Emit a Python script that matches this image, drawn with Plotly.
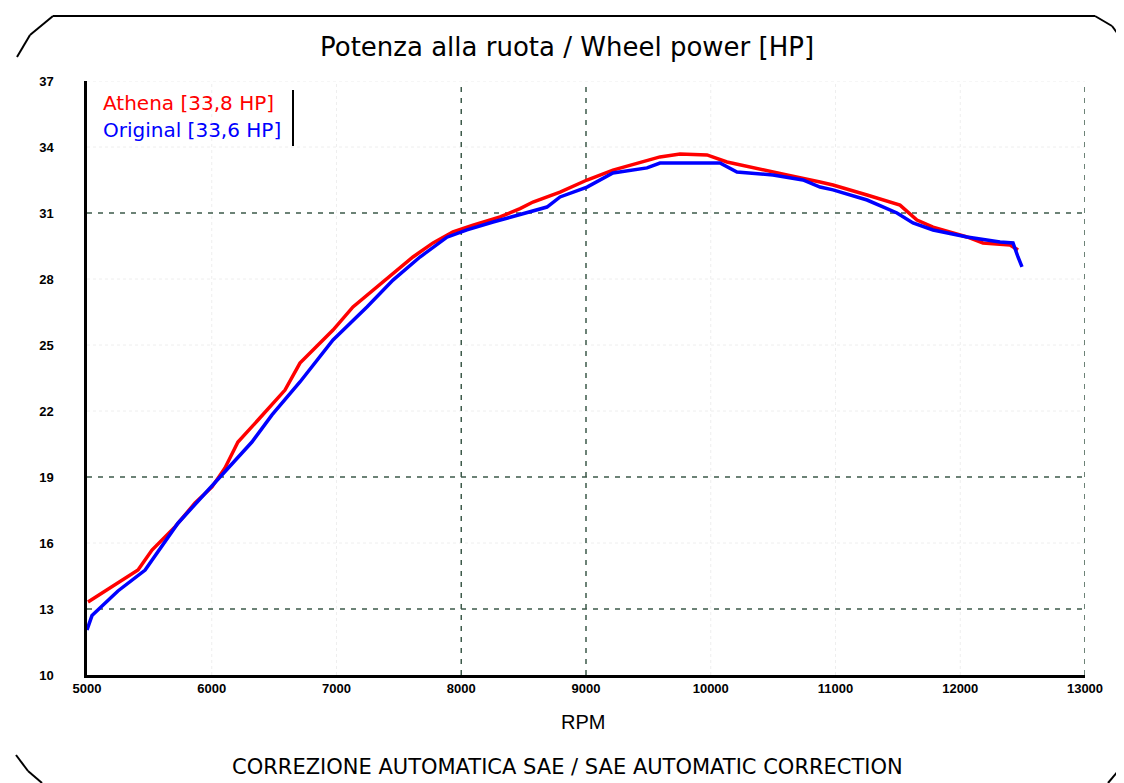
import plotly.graph_objects as go

# ---- data ----
athena_rpm = [5008, 5248, 5409, 5521, 5705, 5866, 6002, 6106, 6210, 6371, 6587, 6707, 6972, 7132,
              7293, 7453, 7613, 7774, 7934, 8094, 8311, 8471, 8575, 8792, 9008, 9216, 9409, 9593,
              9754, 9970, 10130, 10339, 10611, 10876, 10980, 11253, 11517, 11653, 11782, 12054,
              12182, 12399, 12463]
athena_hp = [13.32, 14.18, 14.77, 15.68, 16.73, 17.82, 18.55, 19.41, 20.59, 21.59, 22.95, 24.18,
             25.68, 26.73, 27.5, 28.27, 29.0, 29.64, 30.14, 30.45, 30.82, 31.2, 31.5, 31.95, 32.5,
             32.95, 33.27, 33.55, 33.68, 33.64, 33.32, 33.05, 32.73, 32.41, 32.27, 31.82, 31.36,
             30.68, 30.36, 29.91, 29.64, 29.55, 29.32]
original_rpm = [5000, 5040, 5248, 5466, 5729, 6050, 6322, 6483, 6707, 6972, 7244, 7453, 7669, 7886,
                8046, 8255, 8447, 8687, 8792, 9008, 9216, 9489, 9593, 9810, 10074, 10210, 10499,
                10739, 10876, 10980, 11253, 11493, 11621, 11782, 12054, 12319, 12423, 12463, 12495]
original_hp = [12.05, 12.7, 13.82, 14.77, 16.9, 18.9, 20.59, 21.82, 23.32, 25.23, 26.73, 27.95,
               29.0, 29.9, 30.23, 30.59, 30.91, 31.27, 31.73, 32.18, 32.82, 33.05, 33.27, 33.27,
               33.27, 32.86, 32.73, 32.5, 32.18, 32.05, 31.59, 31.0, 30.55, 30.23, 29.91, 29.68,
               29.64, 29.0, 28.55]
x_ticks = [5000, 6000, 7000, 8000, 9000, 10000, 11000, 12000, 13000]
y_ticks = [10, 13, 16, 19, 22, 25, 28, 31, 34, 37]
major_x = [8000, 9000, 13000]
major_y = [13, 19, 31]
title_text = "Potenza alla ruota / Wheel power [HP]"
footer_text = "CORREZIONE AUTOMATICA SAE / SAE AUTOMATIC CORRECTION"
legend_athena = "Athena [33,8 HP]"
legend_original = "Original [33,6 HP]"

W, H = 1124, 783
OFF = 8  # page body margin
L, R, T, B = 87, 1085, 81, 675  # plot area in window pixels


def px(xp):
    return (xp - L) / (R - L)


def py(yp):
    return (B - yp) / (B - T)


fig = go.Figure()
fig.add_trace(go.Scatter(x=athena_rpm, y=athena_hp, mode="lines", line=dict(color="#ff0000", width=3.5),
                         showlegend=False))
fig.add_trace(go.Scatter(x=original_rpm, y=original_hp, mode="lines", line=dict(color="#0000ff", width=3.5),
                         showlegend=False))

shapes = []
for xv in x_ticks:
    if xv not in major_x and xv != 5000:
        shapes.append(dict(type="line", xref="x", yref="paper", x0=xv, x1=xv, y0=0, y1=1,
                           line=dict(color="#eeeeee", width=1, dash="dot"), layer="below"))
for yv in y_ticks:
    if yv not in major_y and yv != 10:
        shapes.append(dict(type="line", xref="paper", yref="y", x0=0, x1=1, y0=yv, y1=yv,
                           line=dict(color="#eeeeee", width=1, dash="dot"), layer="below"))
for xv in major_x:
    shapes.append(dict(type="line", xref="x", yref="paper", x0=xv, x1=xv, y0=0, y1=1,
                       line=dict(color="#3d5a4a", width=1.5, dash="5px,6px"), layer="below"))
for yv in major_y:
    shapes.append(dict(type="line", xref="paper", yref="y", x0=0, x1=1, y0=yv, y1=yv,
                       line=dict(color="#3d5a4a", width=1.5, dash="5px,6px"), layer="below"))
shapes.append(dict(type="line", xref="paper", yref="paper", x0=px(293), x1=px(293), y0=py(90), y1=py(146),
                   line=dict(color="black", width=2)))
frame = [((53, 16), (1095, 16)), ((1095, 16), (1112, 26)), ((1112, 26), (1124, 42)),
         ((53, 16), (30, 35)), ((30, 35), (17, 57)),
         ((16, 755), (28, 771)), ((28, 771), (42, 783)),
         ((1124, 764), (1108, 783))]
for (a, b) in frame:
    shapes.append(dict(type="line", xref="paper", yref="paper", x0=px(a[0]), y0=py(a[1]), x1=px(b[0]), y1=py(b[1]),
                       line=dict(color="black", width=2)))

FONT = "DejaVu Sans, sans-serif"
annotations = [
    dict(text=title_text, xref="paper", yref="paper", x=px(567), y=py(47), showarrow=False,
         font=dict(size=26, color="black", family=FONT), xanchor="center", yanchor="middle"),
    dict(text="RPM", xref="paper", yref="paper", x=px(583), y=py(722), showarrow=False,
         font=dict(size=20, color="black", family="Arial, Liberation Sans, sans-serif"), xanchor="center", yanchor="middle"),
    dict(text=footer_text, xref="paper", yref="paper", x=px(567), y=py(767), showarrow=False,
         font=dict(size=21, color="black", family=FONT), xanchor="center", yanchor="middle"),
    dict(text=legend_athena, xref="paper", yref="paper", x=px(101), y=py(103), showarrow=False,
         font=dict(size=20, color="#ff0000", family=FONT), xanchor="left", yanchor="middle"),
    dict(text=legend_original, xref="paper", yref="paper", x=px(101), y=py(130), showarrow=False,
         font=dict(size=20, color="#0000ff", family=FONT), xanchor="left", yanchor="middle"),
]

tickfont = dict(size=13, color="black", family="Liberation Sans Narrow, Arial, sans-serif", weight="bold")
fig.update_layout(
    width=W, height=H,
    margin=dict(l=L - OFF, r=W - (R - OFF), t=T - OFF, b=H - (B - OFF)),
    paper_bgcolor="white", plot_bgcolor="white",
    shapes=shapes, annotations=annotations,
    xaxis=dict(range=[5000, 13000], tickvals=x_ticks, ticktext=[str(v) for v in x_ticks],
               showgrid=False, zeroline=False, showline=True, linecolor="black", linewidth=2.5,
               ticks="", tickfont=tickfont),
    yaxis=dict(range=[10, 37], tickvals=y_ticks, ticktext=[str(v) for v in y_ticks],
               showgrid=False, zeroline=False, showline=True, linecolor="black", linewidth=2.5,
               ticks="", ticklabelstandoff=28, tickfont=tickfont),
)

fig.write_html("out.html")
